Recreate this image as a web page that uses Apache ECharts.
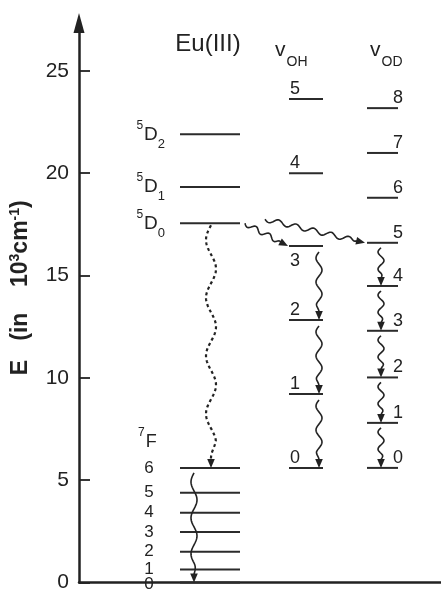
<!DOCTYPE html>
<html>
<head>
<meta charset="utf-8">
<script src="https://cdn.jsdelivr.net/npm/echarts@6/dist/echarts.min.js"></script>
<style>
    html, body { margin: 0; padding: 0; background: #fff; }
    #chart { width: 441px; height: 593px; }
</style>
</head>
<body>
<div id="chart"></div>
<script>
// energies in 10^3 cm^-1
var yTicks = [0, 5, 10, 15, 20, 25];
var euD = [17.55, 19.33, 21.9];                       // 5D0, 5D1, 5D2
var euF = [0, 0.63, 1.5, 2.47, 3.41, 4.39, 5.6];      // 7F0 .. 7F6
var ohLevels = [5.6, 9.21, 12.83, 16.44, 20.0, 23.63]; // v = 0 .. 5
var odLevels = [5.6, 7.8, 10.02, 12.3, 14.49, 16.6, 18.8, 20.99, 23.18]; // v = 0 .. 8

var ink = '#222';
var font = 'Liberation Sans, Arial, sans-serif';

// column layout (x in px from the energy axis)
var col = { eu: [101, 161], oh: [210, 244], od: [288, 319] };

var chartMgr = {

    init: function () {
        var myChart = echarts.init(document.getElementById('chart'));
        var option = {
            animation: false,
            grid: { left: 79, right: 0, top: 23, bottom: 9 },
            xAxis: {
                type: 'value', min: 0, max: 362,
                axisLine: { show: true, lineStyle: { color: ink, width: 2.5 } },
                axisTick: { show: false },
                axisLabel: { show: false },
                splitLine: { show: false }
            },
            yAxis: {
                type: 'value', min: 0, max: 27.34,
                name: 'E   (in    10{sup|3}cm{sup|-1})',
                nameLocation: 'middle',
                nameGap: 45,
                nameTextStyle: {
                    color: ink, fontSize: 23, fontWeight: 'bold', fontFamily: font,
                    padding: [0, 0, 0, 30],
                    rich: {
                        sup: { fontSize: 14, fontWeight: 'bold', fontFamily: font, color: ink, padding: [0, 0, 12, 0] }
                    }
                },
                axisLine: {
                    show: true,
                    symbol: ['none', 'triangle'],
                    symbolSize: [11, 20],
                    lineStyle: { color: ink, width: 2.5 }
                },
                axisTick: {
                    show: true, inside: true, length: 11,
                    customValues: yTicks,
                    lineStyle: { color: ink, width: 1.8 }
                },
                axisLabel: {
                    customValues: yTicks,
                    margin: 10, fontSize: 21, color: ink, fontFamily: font
                },
                splitLine: { show: false }
            },
            graphic: [
                { type: 'text', x: 208, y: 44, style: { text: 'Eu(III)', fontSize: 24, fontFamily: font, fill: ink, align: 'center', verticalAlign: 'middle' } },
                { type: 'text', x: 275, y: 50, style: { text: 'v{sub|OH}', fontSize: 21, fontFamily: font, fill: ink, align: 'left', verticalAlign: 'middle',
                    rich: { sub: { fontSize: 14, fontFamily: font, fill: ink, padding: [25, 0, 0, 1] } } } },
                { type: 'text', x: 370, y: 50, style: { text: 'v{sub|OD}', fontSize: 21, fontFamily: font, fill: ink, align: 'left', verticalAlign: 'middle',
                    rich: { sub: { fontSize: 14, fontFamily: font, fill: ink, padding: [25, 0, 0, 1] } } } }
            ],
            series: [
                chartMgr.levelSeries('5D', euD, col.eu, function (i, p1, p2) {
                    return [chartMgr.text('{sup|5}D{sub|' + i + '}', p1[0] - 15, p1[1], 'right', 'middle', 19)];
                }),
                chartMgr.levelSeries('7F', euF, col.eu, function (i, p1, p2) {
                    var out = [chartMgr.text(String(i), p1[0] - 31, p1[1] + (i === 0 ? 2 : 0), 'center', 'middle', 17)];
                    if (i === euF.length - 1) {
                        out.push(chartMgr.text('{sup|7}F', p1[0] - 42, p1[1] - 26, 'left', 'middle', 18));
                    }
                    return out;
                }),
                chartMgr.levelSeries('OH', ohLevels, col.oh, function (i, p1, p2) {
                    if (i === 3) {
                        return [chartMgr.text(String(i), p1[0] + 1, p1[1] + 6, 'left', 'top', 18)];
                    }
                    return [chartMgr.text(String(i), p1[0] + 1, p1[1] - 1, 'left', 'bottom', 18)];
                }),
                chartMgr.levelSeries('OD', odLevels, col.od, function (i, p1, p2) {
                    return [chartMgr.text(String(i), p2[0] - 5, p1[1] - 1, 'left', 'bottom', 18)];
                }),
                chartMgr.arrowSeries()
            ]
        };
        myChart.setOption(option);
    },

    text: function (str, x, y, align, vAlign, size) {
        return {
            type: 'text',
            style: {
                text: str, x: x, y: y, align: align, verticalAlign: vAlign,
                fontSize: size, fontFamily: font, fill: ink,
                rich: {
                    sup: { fontSize: 12, fontFamily: font, fill: ink, padding: [0, 1, 18, 0] },
                    sub: { fontSize: 13, fontFamily: font, fill: ink, padding: [20, 0, 0, 0] }
                }
            }
        };
    },

    levelSeries: function (name, levels, xs, labelFn) {
        return {
            type: 'custom',
            name: name,
            clip: false,
            data: levels.map(function (e, i) { return [xs[0], xs[1], e, i]; }),
            encode: { x: [0, 1], y: 2 },
            renderItem: function (params, api) {
                var e = api.value(2);
                var p1 = api.coord([api.value(0), e]);
                var p2 = api.coord([api.value(1), e]);
                var children = [{
                    type: 'line',
                    shape: { x1: p1[0], y1: p1[1], x2: p2[0], y2: p2[1] },
                    style: { stroke: '#2b2b2b', lineWidth: 2 }
                }];
                return { type: 'group', children: children.concat(labelFn(api.value(3), p1, p2)) };
            }
        };
    },

    arrowSeries: function () {
        // [x1, E1, x2, E2, amplitude, wavelength, gap, dashed]
        var data = [
            [132, euD[0], 132, euF[6], 5, 58, 2, 1],
            [115, euF[6], 115, euF[0], 3, 36, 5, 0],
            [166, euD[0], 209, ohLevels[3], 2.5, 15, 0, 0],
            [186, euD[0] + 0.2, 286, odLevels[5], 2.5, 18, 0, 0]
        ];
        [3, 2, 1].forEach(function (v) {
            data.push([240, ohLevels[v], 240, ohLevels[v - 1], 3, 24, 6, 0]);
        });
        [5, 4, 3, 2, 1].forEach(function (v) {
            data.push([302, odLevels[v], 302, odLevels[v - 1], 3, 17, 5, 0]);
        });
        return {
            type: 'custom',
            name: 'transitions',
            clip: false,
            data: data,
            encode: { x: [0, 2], y: [1, 3] },
            renderItem: function (params, api) {
                var p1 = api.coord([api.value(0), api.value(1)]);
                var p2 = api.coord([api.value(2), api.value(3)]);
                return chartMgr.wavyArrow(p1, p2, api.value(4), api.value(5), api.value(6), api.value(7) === 1);
            }
        };
    },

    wavyArrow: function (p1, p2, amp, wl, gap, dashed) {
        var dx = p2[0] - p1[0], dy = p2[1] - p1[1];
        var len = Math.sqrt(dx * dx + dy * dy);
        var ux = dx / len, uy = dy / len, nx = -uy, ny = ux;
        var head = 9, hw = 3.8;
        var sx = p1[0] + ux * gap, sy = p1[1] + uy * gap;
        var shaft = len - gap - head + 1;
        var n = Math.max(10, Math.round(shaft / 1.2));
        var pts = [];
        for (var i = 0; i <= n; i++) {
            var s = shaft * i / n;
            var taper = Math.min(1, (shaft - s) / (wl / 3));
            var w = amp * taper * Math.sin(2 * Math.PI * s / wl);
            pts.push([sx + ux * s + nx * w, sy + uy * s + ny * w]);
        }
        var bx = p2[0] - ux * head, by = p2[1] - uy * head;
        return {
            type: 'group',
            children: [
                {
                    type: 'polyline',
                    shape: { points: pts },
                    style: { stroke: ink, lineWidth: dashed ? 2.2 : 1.6, fill: null, lineDash: dashed ? [3, 3] : null }
                },
                {
                    type: 'polygon',
                    shape: { points: [[p2[0], p2[1]], [bx + nx * hw, by + ny * hw], [bx - nx * hw, by - ny * hw]] },
                    style: { fill: ink }
                }
            ]
        };
    }
};

chartMgr.init();
</script>
</body>
</html>
